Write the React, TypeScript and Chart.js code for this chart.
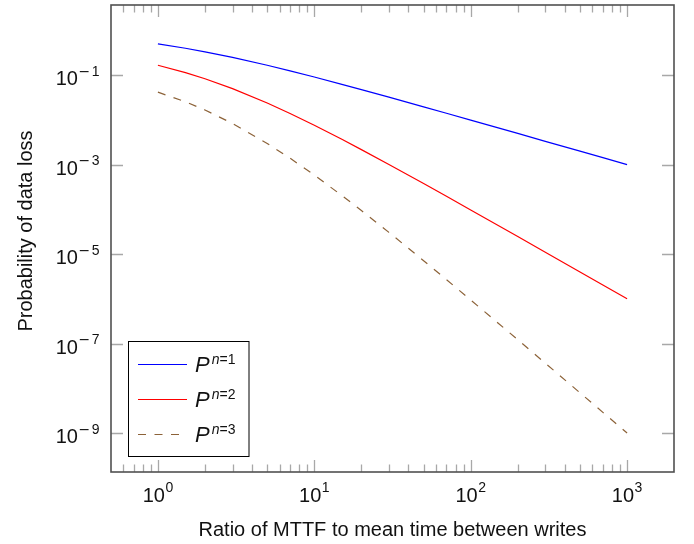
import React, { useEffect, useRef } from "react";
import { Chart, registerables } from "chart.js";

Chart.register(...registerables);

// ---- data ----
const xValues = [1, 1.5, 2, 3, 5, 7, 10, 15, 20, 30, 50, 70, 100, 150, 200, 300, 500, 700, 1000];
const pN1 = [0.5, 0.4, 0.3333, 0.25, 0.1667, 0.125, 0.0909, 0.0625, 0.0476, 0.0323, 0.0196, 0.0141, 0.0099, 0.00662, 0.00498, 0.00332, 0.002, 0.00143, 0.000999];
const pN2 = [0.1667, 0.1143, 0.0833, 0.05, 0.0238, 0.01389, 0.00758, 0.00368, 0.002165, 0.001008, 3.77e-4, 1.956e-4, 9.71e-5, 4.357e-5, 2.463e-5, 1.1e-5, 3.976e-6, 2.032e-6, 9.97e-7];
const pN3 = [0.04167, 0.0254, 0.01667, 0.00833, 0.002976, 0.001389, 5.83e-4, 2.042e-4, 9.41e-5, 3.055e-5, 7.11e-6, 2.68e-6, 9.42e-7, 2.848e-7, 1.213e-7, 3.63e-8, 7.9e-9, 2.89e-9, 9.94e-10];
const seriesLabels = ["n=1", "n=2", "n=3"];

// tick labels (exponents)
const xTickExps = [0, 1, 2, 3];
const yTickExps = [-1, -3, -5, -7, -9];
const xMinorMantissas = [2, 3, 4, 5, 6, 7, 8, 9];

// axis limits
const X_MIN = Math.pow(10, -0.3);
const X_MAX = Math.pow(10, 3.3);
const Y_MIN = Math.pow(10, -9.873);
const Y_MAX = Math.pow(10, 0.569);

const xTitle = "Ratio of MTTF to mean time between writes";
const yTitle = "Probability of data loss";

const FONT = "'Liberation Sans', Arial, Helvetica, sans-serif";
const MINUS_FONT = "'DejaVu Sans', sans-serif";
const TICK_COLOR = "#a8a8a8";
const AXIS_COLOR = "#505050";

function toPoints(ys: number[]) {
  return xValues.map((x, i) => ({ x, y: ys[i] }));
}

const decor = {
  id: "decor",
  afterDatasetsDraw(chart: any) {
    const { ctx, chartArea: a, scales } = chart;
    const xs = scales.x;
    const ys = scales.y;
    ctx.save();

    // ticks
    ctx.strokeStyle = TICK_COLOR;
    ctx.lineWidth = 1.3;
    const MAJ = 12;
    const MIN = 7.5;
    const xMajors = xTickExps.map((e) => Math.pow(10, e));
    for (let d = -1; d <= 3; d++) {
      for (const m of xMinorMantissas) {
        const v = m * Math.pow(10, d);
        if (v < X_MIN || v > X_MAX) continue;
        const px = Math.round(xs.getPixelForValue(v)) + 0.5;
        ctx.beginPath();
        ctx.moveTo(px, a.bottom);
        ctx.lineTo(px, a.bottom - MIN);
        ctx.moveTo(px, a.top);
        ctx.lineTo(px, a.top + MIN);
        ctx.stroke();
      }
    }
    for (const v of xMajors) {
      const px = Math.round(xs.getPixelForValue(v)) + 0.5;
      ctx.beginPath();
      ctx.moveTo(px, a.bottom);
      ctx.lineTo(px, a.bottom - MAJ);
      ctx.moveTo(px, a.top);
      ctx.lineTo(px, a.top + MAJ);
      ctx.stroke();
    }
    for (const e of yTickExps) {
      const py = Math.round(ys.getPixelForValue(Math.pow(10, e))) + 0.5;
      ctx.beginPath();
      ctx.moveTo(a.left, py);
      ctx.lineTo(a.left + MAJ, py);
      ctx.moveTo(a.right, py);
      ctx.lineTo(a.right - MAJ, py);
      ctx.stroke();
    }

    // frame
    ctx.strokeStyle = AXIS_COLOR;
    ctx.lineWidth = 1.6;
    ctx.strokeRect(a.left, a.top, a.right - a.left, a.bottom - a.top);

    // tick labels
    ctx.fillStyle = "#111";
    ctx.textBaseline = "alphabetic";
    ctx.textAlign = "left";
    const mainFont = `20px ${FONT}`;
    const supFont = `14px ${FONT}`;
    const minusFont = `14px ${MINUS_FONT}`;
    const measure = (e: number) => {
      ctx.font = mainFont;
      const w1 = ctx.measureText("10").width;
      let wm = 0;
      if (e < 0) {
        ctx.font = minusFont;
        wm = ctx.measureText("\u2212").width + 1.5;
      }
      ctx.font = supFont;
      const w2 = wm + ctx.measureText(String(Math.abs(e))).width;
      return { w1, w2, wm };
    };
    const drawPow = (x0: number, base: number, e: number) => {
      const { w1, wm } = measure(e);
      ctx.font = mainFont;
      ctx.fillText("10", x0, base);
      let sx = x0 + w1 + 0.5;
      if (e < 0) {
        ctx.font = minusFont;
        ctx.fillText("\u2212", sx, base - 9.5);
        sx += wm;
      }
      ctx.font = supFont;
      ctx.fillText(String(Math.abs(e)), sx, base - 9.5);
    };
    for (const e of xTickExps) {
      const px = xs.getPixelForValue(Math.pow(10, e));
      const { w1, w2 } = measure(e);
      drawPow(px - (w1 + w2 + 0.5) / 2, a.bottom + 29.5, e);
    }
    for (const e of yTickExps) {
      const py = ys.getPixelForValue(Math.pow(10, e));
      const { w1, w2 } = measure(e);
      drawPow(a.left - 11.5 - (w1 + w2 + 0.5), py + 10.3, e);
    }

    // axis titles
    ctx.font = `20px ${FONT}`;
    ctx.textAlign = "center";
    ctx.fillText(xTitle, (a.left + a.right) / 2, 535.5);
    ctx.save();
    ctx.translate(31.5, (a.top + a.bottom) / 2 - 7.5);
    ctx.rotate(-Math.PI / 2);
    ctx.fillText(yTitle, 0, 0);
    ctx.restore();

    // legend
    ctx.fillStyle = "#fff";
    ctx.fillRect(128.5, 341.5, 120.5, 115);
    ctx.strokeStyle = "#000";
    ctx.lineWidth = 1;
    ctx.strokeRect(128.5, 341.5, 120.5, 115);
    const rows = [364.5, 399.5, 434.5];
    chart.data.datasets.forEach((ds: any, i: number) => {
      const y = rows[i];
      ctx.save();
      ctx.strokeStyle = ds.borderColor;
      ctx.lineWidth = ds.borderWidth;
      ctx.setLineDash(ds.borderDash || []);
      ctx.beginPath();
      ctx.moveTo(138, y);
      ctx.lineTo(187, y);
      ctx.stroke();
      ctx.restore();
      ctx.fillStyle = "#111";
      ctx.textAlign = "left";
      ctx.font = `italic 22px ${FONT}`;
      ctx.fillText("P", 195, y + 7.3);
      const pw = ctx.measureText("P").width;
      let sx = 195 + pw + 2;
      const lbl = seriesLabels[i];
      ctx.font = `italic 14px ${FONT}`;
      ctx.fillText(lbl[0], sx, y - 1);
      sx += ctx.measureText(lbl[0]).width;
      ctx.font = `14px ${FONT}`;
      ctx.fillText(lbl.slice(1), sx, y - 1);
    });

    ctx.restore();
  },
};

export default function App() {
  const ref = useRef<HTMLCanvasElement | null>(null);
  useEffect(() => {
    if (!ref.current) return;
    const chart = new Chart(ref.current, {
      type: "scatter",
      data: {
        datasets: [
          { label: "P^{n=1}", data: toPoints(pN1), showLine: true, pointRadius: 0, borderColor: "#0000ff", borderWidth: 1.2, fill: false },
          { label: "P^{n=2}", data: toPoints(pN2), showLine: true, pointRadius: 0, borderColor: "#ff0000", borderWidth: 1.2, fill: false },
          { label: "P^{n=3}", data: toPoints(pN3), showLine: true, pointRadius: 0, borderColor: "#8c6238", borderWidth: 1.2, borderDash: [8, 8.5], fill: false },
        ],
      },
      options: {
        responsive: true,
        maintainAspectRatio: false,
        animation: false,
        layout: { padding: { left: 111, top: 5, right: 20, bottom: 72 } },
        plugins: { legend: { display: false }, tooltip: { enabled: false } },
        scales: {
          x: { type: "logarithmic", display: false, min: X_MIN, max: X_MAX, bounds: "data" },
          y: { type: "logarithmic", display: false, min: Y_MIN, max: Y_MAX, bounds: "data" },
        },
      },
      plugins: [decor],
    } as any);
    return () => chart.destroy();
  }, []);
  return (
    <div style={{ position: "fixed", left: 0, top: 0, width: 694, height: 544, background: "#fff" }}>
      <canvas ref={ref} />
    </div>
  );
}
